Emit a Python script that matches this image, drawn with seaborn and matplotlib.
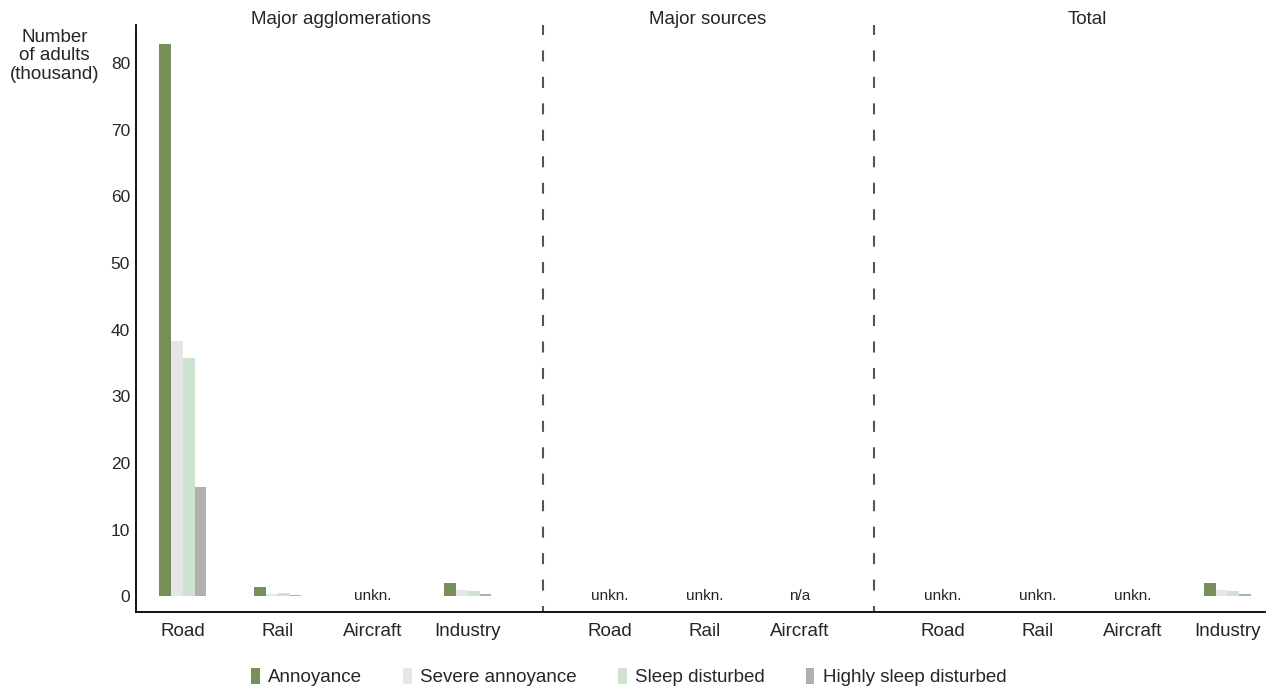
import pandas as pd
import matplotlib.pyplot as plt
import matplotlib.transforms as mtransforms
import seaborn as sns
from matplotlib.patches import Patch

# ==============================
# Data
# ==============================
categories = ["Road", "Rail", "Aircraft", "Industry",
              "Road", "Rail", "Aircraft",
              "Road", "Rail", "Aircraft", "Industry"]
positions = [0, 1, 2, 3, 4.5, 5.5, 6.5, 8, 9, 10, 11]
panels = ["Major agglomerations", "Major sources", "Total"]

annoyance = [82.9, 1.35, None, 2.0, None, None, None, None, None, None, 2.0]
severe_annoyance = [38.3, 0.4, None, 0.9, None, None, None, None, None, None, 0.9]
sleep_disturbed = [35.7, 0.5, None, 0.8, None, None, None, None, None, None, 0.8]
highly_sleep_disturbed = [16.4, 0.2, None, 0.4, None, None, None, None, None, None, 0.4]

notes = ["", "", "unkn.", "", "unkn.", "unkn.", "n/a", "unkn.", "unkn.", "unkn.", ""]

series = ["Annoyance", "Severe annoyance", "Sleep disturbed", "Highly sleep disturbed"]
colors = ["#778f58", "#e6e6e6", "#cde3cf", "#b0b0b0"]

rows = []
for name, vals in zip(series, [annoyance, severe_annoyance, sleep_disturbed, highly_sleep_disturbed]):
    for pos, v in zip(positions, vals):
        rows.append({"pos": pos, "indicator": name, "value": v if v is not None else 0.0})
df = pd.DataFrame(rows)

# ==============================
# Figure
# ==============================
sns.set_style("white")
plt.rcParams["font.family"] = ["Liberation Sans", "DejaVu Sans"]

fig = plt.figure(figsize=(12.68, 6.91), dpi=100)
ax = fig.add_axes([0.107, 0.114, 0.891, 0.85])

sns.barplot(data=df, x="pos", y="value", hue="indicator", hue_order=series,
            palette=colors, native_scale=True, width=0.5, dodge=True,
            saturation=1, edgecolor="none", linewidth=0, legend=False, ax=ax)

ymin, ymax = -2.4, 85.7
ax.set_xlim(-0.495, 11.4)
ax.set_ylim(ymin, ymax)
ax.set_xticks(positions)
ax.set_xticklabels(categories, fontsize=13.5)
ax.set_yticks(range(0, 90, 10))
ax.set_yticklabels([str(v) for v in range(0, 90, 10)], fontsize=12.5)
ax.tick_params(axis="both", length=0, pad=4)
ax.tick_params(axis="x", pad=8)
ax.set_xlabel("")
ax.set_ylabel("")

for side in ["top", "right"]:
    ax.spines[side].set_visible(False)
for side in ["left", "bottom"]:
    ax.spines[side].set_color("black")
    ax.spines[side].set_linewidth(1.3)

# separators between panels (dashes start from the top)
for xs in [3.79, 7.28]:
    ax.plot([xs, xs], [ymax, ymin], color="#555555", linewidth=1.5,
            linestyle=(0.5, (5.3, 7.4)), clip_on=False)

# panel titles
title_tr = mtransforms.blended_transform_factory(ax.transData, fig.transFigure)
for xt, t in zip([1.67, 5.53, 9.52], panels):
    ax.text(xt, 1 - 19 / 691, t, ha="center", va="center", fontsize=13.5,
            transform=title_tr)

# unknown / not applicable notes
for pos, n in zip(positions, notes):
    if n:
        ax.text(pos, 0, n, ha="center", va="center", fontsize=11)

# y label
fig.text(0.043, 0.958, "Number\nof adults\n(thousand)", ha="center", va="top",
         fontsize=13.5, linespacing=1.1)

handles = [Patch(facecolor=c, edgecolor="none") for c in colors]
fig.legend(handles, series, loc="center", bbox_to_anchor=(0.496, 1 - 677 / 691),
           ncol=4, frameon=False, fontsize=13.5, handlelength=0.45, handleheight=1.0,
           handletextpad=0.45, columnspacing=2.2)

fig.savefig("out.png", dpi=100)
